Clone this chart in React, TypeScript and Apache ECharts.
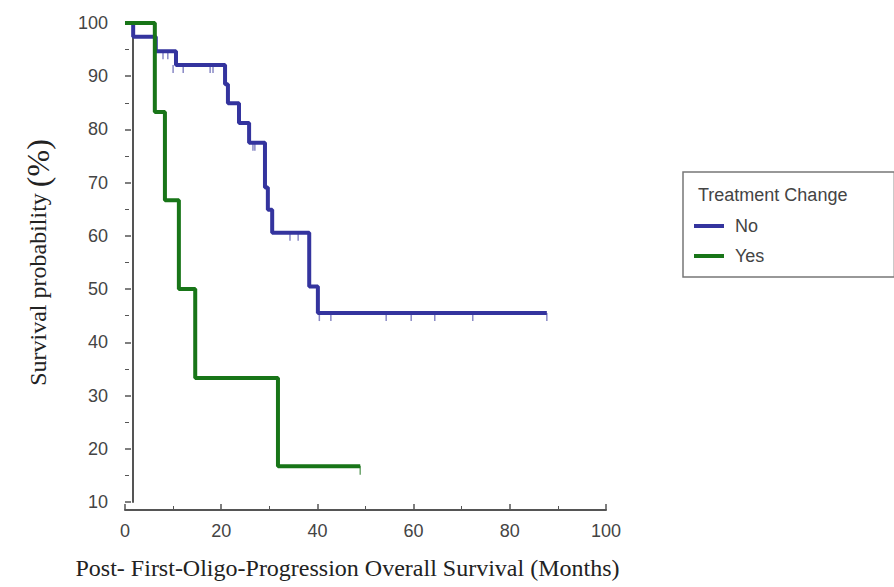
import React, { useEffect, useRef } from "react";
import * as echarts from "echarts";

// Kaplan-Meier step points (time in months, survival %)
const noTimes = [0, 1.7, 6.4, 10.6, 20.8, 21.4, 23.7, 25.8, 29.1, 29.7, 30.6, 38.3, 40.1, 87.7];
const noValues = [100, 97.4, 94.7, 92.1, 88.5, 84.9, 81.2, 77.5, 69.1, 64.9, 60.6, 50.5, 45.5, 45.5];
const yesTimes = [0, 6.2, 8.3, 11.2, 14.6, 31.8, 48.9];
const yesValues = [100, 83.3, 66.7, 50, 33.3, 16.7, 16.7];

// censored observations
const noCensorTimes = [7.9, 8.9, 10.0, 12.1, 17.7, 18.3, 26.6, 27.0, 34.3, 36.0, 40.4, 42.8, 54.3, 59.5, 64.4, 72.3, 87.7];
const noCensorValues = [94.7, 94.7, 92.1, 92.1, 92.1, 92.1, 77.5, 77.5, 60.6, 60.6, 45.5, 45.5, 45.5, 45.5, 45.5, 45.5, 45.5];
const yesCensorTimes = [48.9];
const yesCensorValues = [16.7];

const seriesNames = ["No", "Yes"];
const legendTitle = "Treatment Change";
const xTitle = "Post- First-Oligo-Progression Overall Survival (Months)";
const yTitleMain = "Survival probability ";
const yTitleUnit = "(%)";

const BLUE = "#34349e";
const GREEN = "#187518";

const zip = (a: number[], b: number[]) => a.map((v, i) => [v, b[i]]);

export default function App() {
  const ref = useRef<HTMLDivElement>(null);
  useEffect(() => {
    if (!ref.current) return;
    const chart = echarts.init(ref.current, undefined, { renderer: "svg" });
    const axisColor = "#555";
    chart.setOption({
      animation: false,
      backgroundColor: "#fff",
      title: {
        text: legendTitle,
        left: 698,
        top: 186,
        padding: 0,
        textStyle: { fontFamily: "Liberation Sans", fontSize: 18, fontWeight: "normal", color: "#444" },
      },
      legend: {
        data: seriesNames,
        orient: "vertical",
        left: 683,
        top: 172,
        padding: [44, 130, 11, 11],
        itemWidth: 30,
        itemHeight: 4,
        itemGap: 10,
        icon: "rect",
        borderColor: "#777",
        borderWidth: 1.5,
        textStyle: { fontFamily: "Liberation Sans", fontSize: 18, color: "#444", lineHeight: 20, padding: [0, 0, 0, 6] },
      },
      grid: { left: 125, top: 23, width: 481, height: 479, containLabel: false },
      xAxis: [
        {
          type: "value",
          min: 0,
          max: 100,
          interval: 20,
          offset: 8,
          position: "bottom",
          axisLine: { show: false },
          axisTick: { show: true, inside: true, length: 6, lineStyle: { color: axisColor, width: 1.5 } },
          minorTick: { show: true, splitNumber: 2, length: 4, lineStyle: { color: axisColor, width: 1 } },
          axisLabel: { fontFamily: "Liberation Sans", fontSize: 18, color: "#444", margin: 12 },
          splitLine: { show: false },
          name: xTitle,
          nameLocation: "middle",
          nameGap: 46,
          nameTextStyle: { fontFamily: "Liberation Serif", fontSize: 24, color: "#222", padding: [0, 36, 0, 0] },
        },
        {
          type: "value",
          min: -1.6,
          max: 102.9,
          offset: 8,
          position: "bottom",
          axisLine: { show: true, lineStyle: { color: axisColor, width: 2 } },
          axisTick: { show: false },
          axisLabel: { show: false },
          splitLine: { show: false },
        },
      ],
      yAxis: [
        {
          type: "value",
          min: 10,
          max: 100,
          interval: 10,
          offset: 8,
          position: "left",
          axisLine: { show: false },
          axisTick: { show: true, inside: true, length: 6, lineStyle: { color: axisColor, width: 1.5 } },
          minorTick: { show: true, splitNumber: 2, length: 4, lineStyle: { color: axisColor, width: 1 } },
          axisLabel: { fontFamily: "Liberation Sans", fontSize: 18, color: "#444", margin: 9 },
          splitLine: { show: false },
          name: "{a|" + yTitleMain + "}{b|" + yTitleUnit + "}",
          nameLocation: "middle",
          nameRotate: 90,
          nameGap: 63,
          nameTextStyle: {
            rich: {
              a: { fontFamily: "Liberation Serif", fontSize: 24, color: "#222" },
              b: { fontFamily: "Liberation Serif", fontSize: 32, color: "#222" },
            },
          },
        },
        {
          type: "value",
          min: 8.5,
          max: 100.9,
          offset: 8,
          position: "left",
          axisLine: { show: true, lineStyle: { color: axisColor, width: 2 } },
          axisTick: { show: false },
          axisLabel: { show: false },
          splitLine: { show: false },
        },
      ],
      series: [
        {
          name: "No",
          type: "line",
          step: "end",
          data: zip(noTimes, noValues),
          symbol: "none",
          lineStyle: { color: BLUE, width: 4 },
          itemStyle: { color: BLUE },
          z: 3,
        },
        {
          name: "No-censored",
          type: "scatter",
          data: zip(noCensorTimes, noCensorValues),
          symbol: "rect",
          symbolSize: [1.5, 8],
          symbolOffset: [0, 4],
          itemStyle: { color: "#6a6ab6" },
          z: 2,
        },
        {
          name: "Yes",
          type: "line",
          step: "end",
          data: zip(yesTimes, yesValues),
          symbol: "none",
          lineStyle: { color: GREEN, width: 4 },
          itemStyle: { color: GREEN },
          z: 4,
        },
        {
          name: "Yes-censored",
          type: "scatter",
          data: zip(yesCensorTimes, yesCensorValues),
          symbol: "rect",
          symbolSize: [1.5, 9],
          symbolOffset: [0, 4],
          itemStyle: { color: "#4a8f4a" },
          z: 2,
        },
      ],
    });
    return () => chart.dispose();
  }, []);
  return (
    <div
      ref={ref}
      style={{ position: "fixed", left: 0, top: 0, width: 894, height: 587, background: "#fff" }}
    />
  );
}
